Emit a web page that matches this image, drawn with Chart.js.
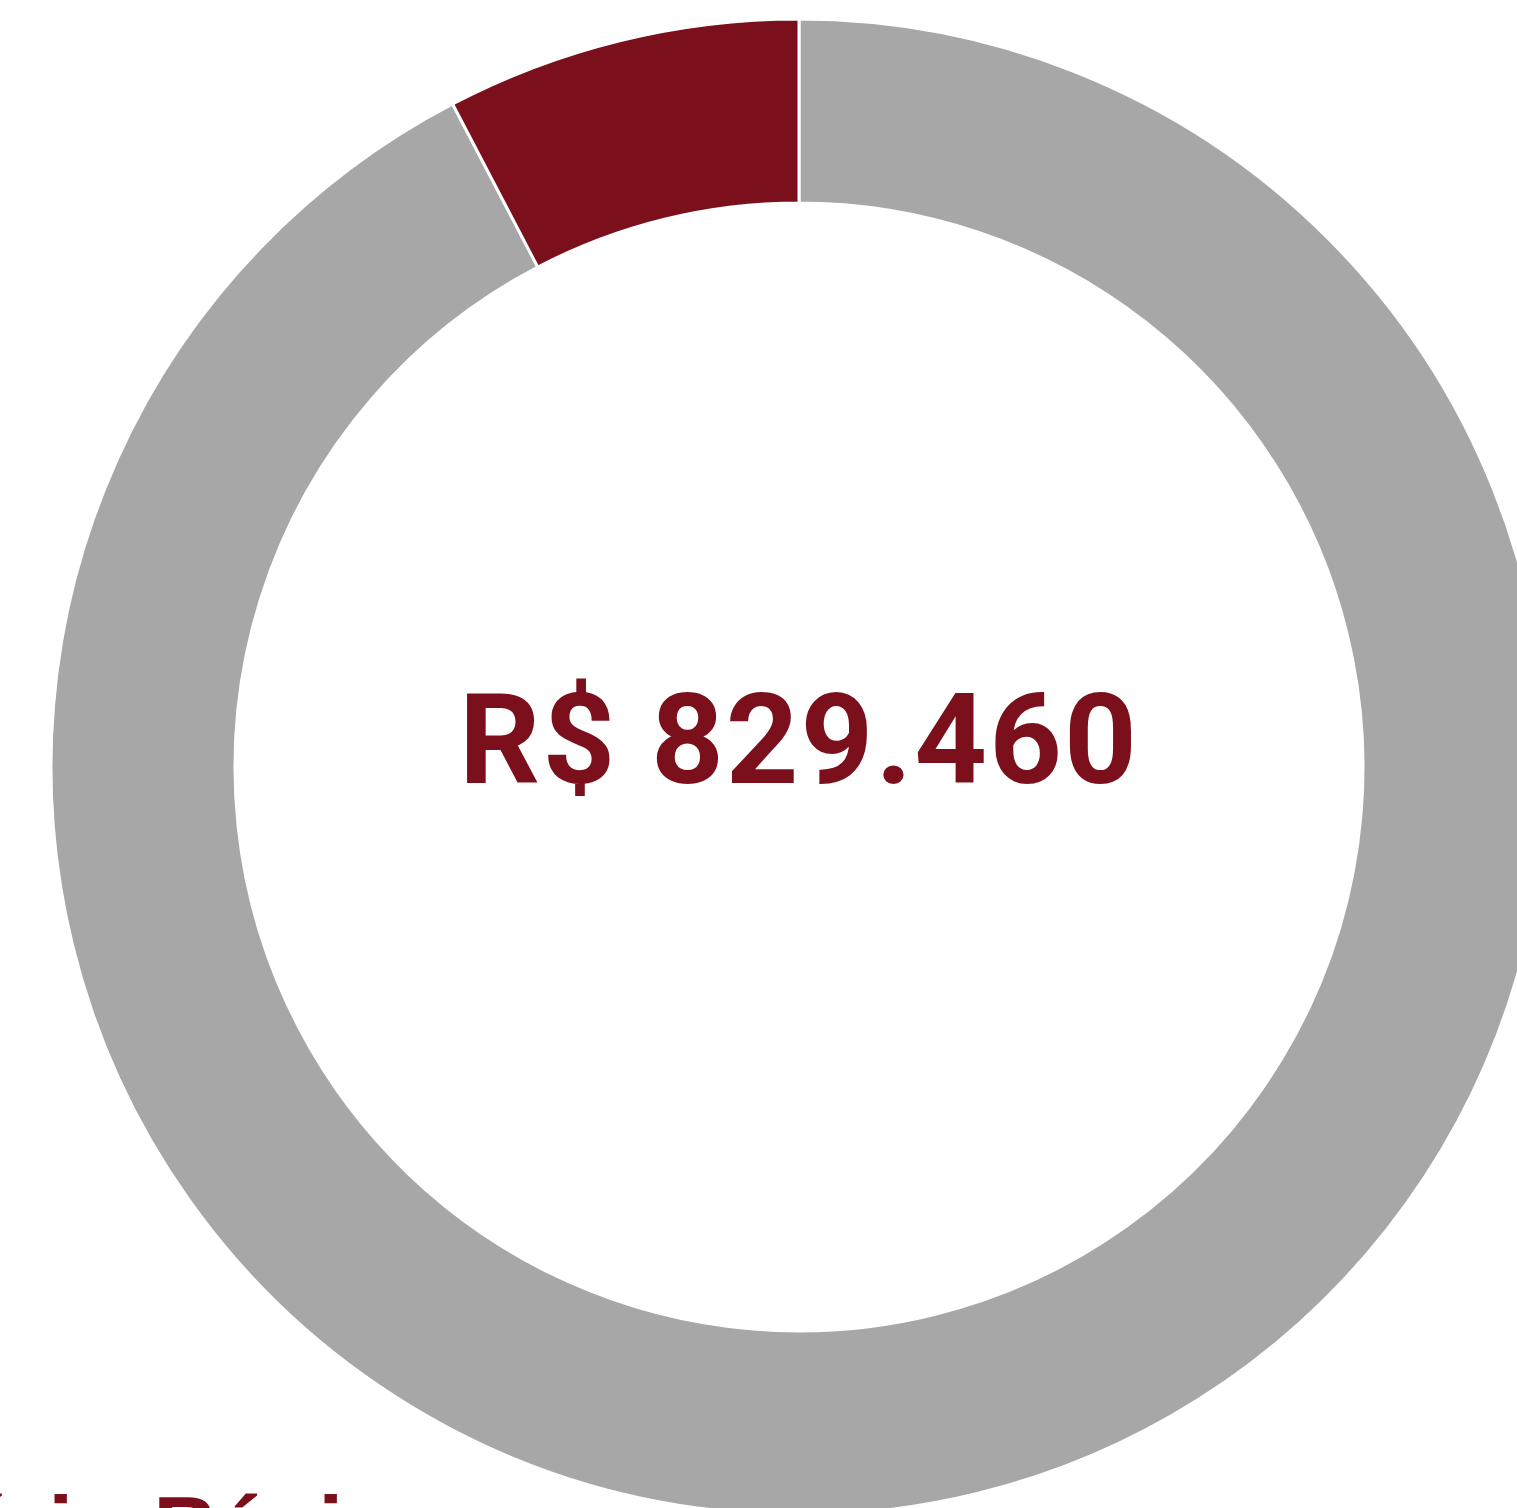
<!DOCTYPE html>
<html>
<head>
<meta charset="utf-8">
<script src="https://cdn.jsdelivr.net/npm/chart.js@4"></script>
<style>
  html, body { margin: 0; padding: 0; background: #fff; overflow: hidden; }
  #wrap { position: absolute; left: 0; top: 0; width: 1598px; height: 1600px; }
  #caption {
    position: absolute; left: -172px; top: 1484px;
    font: bold 90px "Liberation Sans", Arial, sans-serif; line-height: 90px;
    color: #7b0f1b; white-space: nowrap;
  }
</style>
</head>
<body>
<div id="wrap"><canvas id="donutChart"></canvas></div>
<div id="caption">Salário Básico</div>
<script>
// values
const labels = ["Demais", "Salário Básico"];
const values = [765900, 63560];
const colors = ["#a7a7a7", "#7b0f1b"];
const centerLabel = "R$ 829.460";

// draw the total in the middle
const centerText = {
    id: 'centerText',
    afterDraw(chart) {
        const c = chart.ctx;
        const arc = chart.getDatasetMeta(0).data[0];
        c.save();
        c.font = 'bold 127px Roboto, sans-serif';
        c.letterSpacing = '2px';
        c.fillStyle = '#7b0f1b';
        c.textAlign = 'center';
        c.textBaseline = 'alphabetic';
        c.fillText(centerLabel, arc.x, arc.y + 16);
        c.restore();
    }
};

const ctx = document.getElementById("donutChart");

const donutChart = new Chart(ctx, {
    type: 'doughnut',
    data: {
        labels: labels,
        datasets: [{
            data: values,
            backgroundColor: colors,
            borderColor: "#ffffff",
            borderWidth: 3
        }]
    },
    options: {
        responsive: true,
        maintainAspectRatio: false,
        animation: false,
        radius: 748,
        cutout: '75.4%',
        layout: { padding: { bottom: 66 } },
        plugins: {
            legend: { display: false },
            tooltip: { enabled: false }
        }
    },
    plugins: [centerText]
});
</script>
</body>
</html>
